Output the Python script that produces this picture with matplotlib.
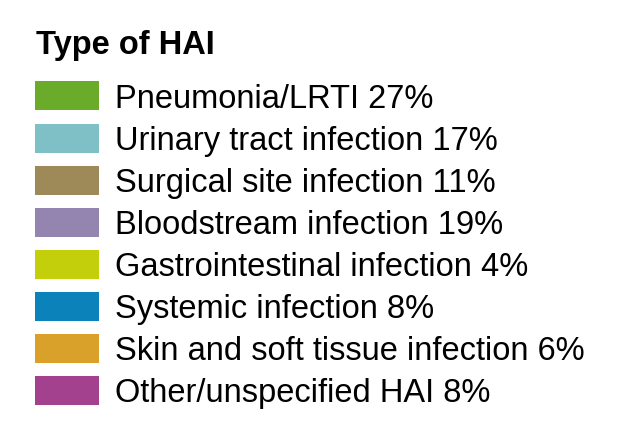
import matplotlib.pyplot as plt

# legend entries, top to bottom
types = ['Pneumonia/LRTI', 'Urinary tract infection', 'Surgical site infection',
         'Bloodstream infection', 'Gastrointestinal infection', 'Systemic infection',
         'Skin and soft tissue infection', 'Other/unspecified HAI']
shares = [27, 17, 11, 19, 4, 8, 6, 8]
colors = ['#6aab2a', '#7fbfc6', '#9e8a58', '#9485b0',
          '#c3cf0b', '#0b83ba', '#d9a02a', '#a3418e']

plt.rcParams['font.family'] = ['Liberation Sans', 'DejaVu Sans']

fig = plt.figure(figsize=(6.31, 4.44), dpi=100)
ax = fig.add_axes([0, 0, 1, 1])
ax.set_xlim(0, 631)
ax.set_ylim(444, 0)
ax.axis('off')

# rows in pixel units
row_y = [96 + 42 * i for i in range(len(types))]
ax.barh(row_y, [64] * len(types), left=35, height=29, color=colors)
for y, t, s in zip(row_y, types, shares):
    ax.text(115, y + 11.5, f'{t} {s}%', fontsize=23.5, va='baseline', ha='left')

ax.text(36, 54, 'Type of HAI', fontsize=23.5, fontweight='bold', va='baseline', ha='left')

fig.savefig('out.png', dpi=100)
